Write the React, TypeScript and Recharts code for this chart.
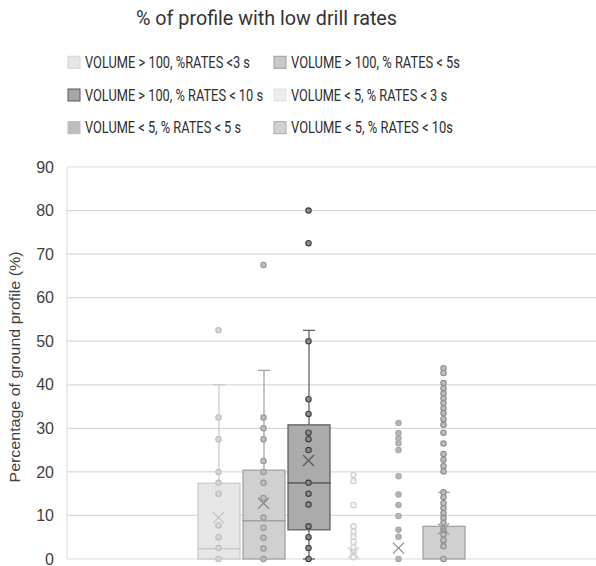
import { ComposedChart, Bar, Scatter, XAxis, YAxis, CartesianGrid, Legend } from 'recharts'

const SERIES = [
  'VOLUME > 100, %RATES <3 s',
  'VOLUME > 100, % RATES < 5s',
  'VOLUME > 100, % RATES < 10 s',
  'VOLUME < 5, % RATES < 3 s',
  'VOLUME < 5, % RATES < 5 s',
  'VOLUME < 5, % RATES < 10s',
]

// box plot stats, one entry per series
const WHISKER_LOW = [0, 0, 0, 0, 0, 0]
const Q1 = [0, 0, 6.7, 0, 0, 0]
const MEDIAN = [2.4, 8.8, 17.5, 0, 0, 0]
const Q3 = [17.4, 20.4, 30.8, 0, 0, 7.5]
const WHISKER_HIGH = [40, 43.3, 52.5, 0, 0, 15.3]
const MEAN = [9.5, 12.8, 22.6, 1.4, 2.5, 6.9]

// individual points shown on each box
const POINTS_1 = [52.5, 32.5, 27.5, 20, 17.5, 15, 7.7, 5, 2.5, 0]
const POINTS_2 = [67.5, 32.5, 30, 27.5, 22.5, 20, 17.5, 14, 9.5, 7.2, 4.9, 2.4, 0]
const POINTS_3 = [80, 72.5, 50, 36.7, 33.3, 29, 27.5, 25, 17.5, 15, 12.5, 7.5, 5, 2.5, 0]
const POINTS_4 = [19.3, 17.9, 12.4, 7.5, 6.2, 5.1, 3.9, 2.7, 1.5, 0.4]
const POINTS_5 = [31.2, 28.9, 27.7, 26.6, 25, 19, 14.8, 12.4, 9.9, 6.7, 5.1, 0]
const POINTS_6 = [
  43.8, 42.7, 40.4, 39.2, 38, 36.9, 35.8, 34.6, 33.5, 32.1, 30.8, 29, 26.5, 24.1, 22.8, 21.3, 20.1,
  15.3, 14.2, 12.8, 11.7, 10.5, 9.4, 8.3, 6.9, 5.6, 4.3, 2.9, 0,
]
const POINTS = [POINTS_1, POINTS_2, POINTS_3, POINTS_4, POINTS_5, POINTS_6]

const Y_TICKS = [0, 10, 20, 30, 40, 50, 60, 70, 80, 90]

const STYLE = [
  { box: '#e6e6e6', line: '#c8c8c8', dot: '#d6d6d6', dotLine: '#bdbdbd', mean: '#c2c2c2', swatch: '#e6e6e6', swatchLine: '#d2d2d2' },
  { box: '#d0d0d0', line: '#9e9e9e', dot: '#bdbdbd', dotLine: '#969696', mean: '#8a8a8a', swatch: '#c8c8c8', swatchLine: '#a0a0a0' },
  { box: '#ababab', line: '#595959', dot: '#8c8c8c', dotLine: '#3f3f3f', mean: '#595959', swatch: '#a6a6a6', swatchLine: '#595959' },
  { box: '#eeeeee', line: '#d9d9d9', dot: '#f4f4f4', dotLine: '#cccccc', mean: '#cccccc', swatch: '#ececec', swatchLine: '#e2e2e2' },
  { box: '#c4c4c4', line: '#b0b0b0', dot: '#b5b5b5', dotLine: '#a8a8a8', mean: '#8c8c8c', swatch: '#bdbdbd', swatchLine: '#bdbdbd' },
  { box: '#d0d0d0', line: '#9d9d9d', dot: '#bdbdbd', dotLine: '#8c8c8c', mean: '#9a9a9a', swatch: '#d0d0d0', swatchLine: '#a8a8a8' },
]

// legend grid: [column x, row center y, text width]
const LEGEND_POS = [
  [68, 62.3, 165],
  [274, 62.3, 169],
  [68, 95, 178],
  [274, 95, 156],
  [68, 127.7, 156],
  [274, 127.7, 162],
]

const rows = SERIES.map((name, i) => ({
  name,
  idx: i,
  base: WHISKER_LOW[i],
  lowWhisker: Q1[i] - WHISKER_LOW[i],
  lowBox: MEDIAN[i] - Q1[i],
  highBox: Q3[i] - MEDIAN[i],
  highWhisker: WHISKER_HIGH[i] - Q3[i],
}))

const meanData = SERIES.map((name, i) => ({ name, idx: i, value: MEAN[i] }))

const nothing = () => <g />

const boxShape = (props: any) => {
  const { x, y, width, height, payload } = props
  if (!height) return <g />
  const s = STYLE[payload.idx]
  return <rect x={x} y={y} width={width} height={height} fill={s.box} stroke={s.line} strokeWidth={1.2} />
}

const whiskerShape = (top: boolean) => (props: any) => {
  const { x, y, width, height, payload } = props
  if (!height) return <g />
  const s = STYLE[payload.idx]
  const cx = x + width / 2
  const capY = top ? y : y + height
  return (
    <g stroke={s.line} strokeWidth={1.2}>
      <line x1={cx} x2={cx} y1={y} y2={y + height} />
      <line x1={cx - 6} x2={cx + 6} y1={capY} y2={capY} />
    </g>
  )
}

const dotShape = (i: number) => (props: any) => {
  const { cx, cy } = props
  const s = STYLE[i]
  return <circle cx={cx} cy={cy} r={2.7} fill={s.dot} stroke={s.dotLine} strokeWidth={1.1} />
}

const meanShape = (props: any) => {
  const { cx, cy, payload } = props
  const s = STYLE[payload.idx]
  const d = 5.5
  return (
    <g stroke={s.mean} strokeWidth={1.3}>
      <line x1={cx - d} y1={cy - d} x2={cx + d} y2={cy + d} />
      <line x1={cx - d} y1={cy + d} x2={cx + d} y2={cy - d} />
    </g>
  )
}

const renderLegend = () => (
  <svg width={596} height={145} style={{ display: 'block' }}>
    {SERIES.map((name, i) => {
      const [lx, ly, tw] = LEGEND_POS[i]
      return (
        <g key={name}>
          <rect x={lx} y={ly - 6} width={12} height={12} fill={STYLE[i].swatch} stroke={STYLE[i].swatchLine} />
          <text
            x={lx + 17}
            y={ly + 5.5}
            fontSize={16}
            fontFamily="Roboto, sans-serif"
            fill="#2e2e2e"
            textLength={tw}
            lengthAdjust="spacingAndGlyphs"
          >
            {name}
          </text>
        </g>
      )
    })}
  </svg>
)

const yLabel = (props: any) => {
  const { viewBox } = props
  const cy = viewBox.y + viewBox.height / 2 + 4
  return (
    <text
      x={20}
      y={cy}
      transform={`rotate(-90 20 ${cy})`}
      textAnchor="middle"
      fontSize={14}
      fontFamily="'Liberation Sans', Arial, sans-serif"
      fill="#404040"
      textLength={231}
      lengthAdjust="spacingAndGlyphs"
    >
      Percentage of ground profile (%)
    </text>
  )
}

export default function App() {
  return (
    <div style={{ position: 'relative', width: 596, height: 566, background: '#fff' }}>
      <style>{'body{margin:0}'}</style>
      <svg width={596} height={40} style={{ position: 'absolute', left: 0, top: 0, zIndex: 2 }}>
        <text
          x={266.5}
          y={24.5}
          textAnchor="middle"
          fontSize={21}
          fontFamily="Roboto, sans-serif"
          fill="#333333"
          textLength={261}
          lengthAdjust="spacingAndGlyphs"
        >
          % of profile with low drill rates
        </text>
      </svg>
      <ComposedChart width={596} height={566} data={rows} margin={{ top: 167, right: 0, bottom: 7, left: 0 }}>
        <CartesianGrid vertical={false} stroke="#d9d9d9" strokeWidth={1.2} />
        <XAxis
          dataKey="name"
          type="category"
          hide
          allowDuplicatedCategory={false}
          padding={{ left: 129, right: 130 }}
        />
        <YAxis
          type="number"
          domain={[0, 90]}
          ticks={Y_TICKS}
          interval={0}
          width={67}
          axisLine={{ stroke: '#d9d9d9' }}
          tickLine={false}
          tickMargin={7}
          tick={{ fontSize: 16, fill: '#404040', fontFamily: "'Liberation Sans', Arial, sans-serif" }}
          label={{ content: yLabel }}
        />
        <Legend
          layout="vertical"
          verticalAlign="middle"
          align="center"
          content={renderLegend}
          wrapperStyle={{ top: 0, left: 0, width: 596 }}
        />
        <Bar dataKey="base" stackId="box" barSize={42} shape={nothing} isAnimationActive={false} />
        <Bar dataKey="lowWhisker" stackId="box" barSize={42} shape={whiskerShape(false)} isAnimationActive={false} />
        <Bar dataKey="lowBox" stackId="box" barSize={42} shape={boxShape} isAnimationActive={false} />
        <Bar dataKey="highBox" stackId="box" barSize={42} shape={boxShape} isAnimationActive={false} />
        <Bar dataKey="highWhisker" stackId="box" barSize={42} shape={whiskerShape(true)} isAnimationActive={false} />
        {POINTS.map((pts, i) => (
          <Scatter
            key={SERIES[i]}
            data={pts.map((v) => ({ name: SERIES[i], value: v }))}
            dataKey="value"
            shape={dotShape(i)}
            isAnimationActive={false}
          />
        ))}
        <Scatter data={meanData} dataKey="value" shape={meanShape} isAnimationActive={false} />
      </ComposedChart>
    </div>
  )
}
